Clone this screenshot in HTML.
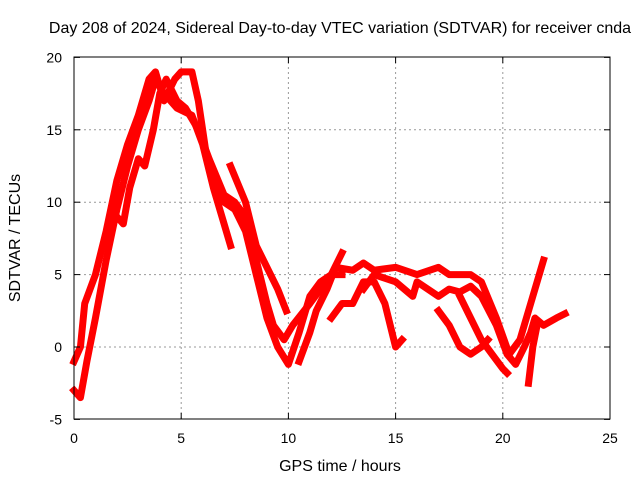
<!DOCTYPE html>
<html><head><meta charset="utf-8"><style>
body{margin:0;background:#fff}
svg{display:block;font-family:"Liberation Sans",sans-serif}
</style></head><body>
<svg width="640" height="480">
<g id="grid"></g>
<g id="series"></g>
<rect x="74" y="57" width="536" height="362" fill="none" stroke="#000" stroke-width="1"/>
<g id="ticks"></g>
<text x="340" y="33" text-anchor="middle" font-size="16">Day 208 of 2024, Sidereal Day-to-day VTEC variation (SDTVAR) for receiver cnda</text>
<text x="340" y="471" text-anchor="middle" font-size="16">GPS time / hours</text>
<text transform="translate(20,238) rotate(-90)" text-anchor="middle" font-size="16">SDTVAR / TECUs</text>
</svg>
<script>
const xTicks=[0,5,10,15,20,25];
const yTicks=[-5,0,5,10,15,20];
const track1=[[0,-3],[0.3,-3.5],[0.6,-1],[1,2],[1.5,6],[2,9.5],[2.5,12.5],[3,15],[3.5,17],[3.8,18.5],[4.2,17.5],[4.8,16.5],[5.5,16],[6,14],[6.5,11],[7,8.5],[7.3,7]];
const track2=[[0,-1],[0.3,0],[0.5,3],[1,5],[1.5,8],[2,11.5],[2.5,14],[3,16],[3.5,18.5],[3.8,19],[4.2,17],[4.7,18.5],[5,19],[5.5,19],[5.8,17],[6.2,13],[7,10],[7.5,9.5],[8,8],[8.5,5],[9,2],[9.5,0],[10,-1.2],[10.5,1],[11,3.5],[11.5,4.5],[12,5],[12.5,6.5]];
const track3=[[2,9],[2.3,8.5],[2.6,11],[3,13],[3.3,12.5],[3.7,15],[4,17.5],[4.3,18.5],[4.8,17],[5.2,16.5],[5.8,15],[6.3,13],[7,10.5],[7.5,10],[8,9],[8.5,6],[9,3],[9.3,1.5],[9.8,0.5],[10.2,1.5],[11,3],[12,5],[12.5,5]];
const track4=[[7.3,12.5],[8,10],[8.5,7],[9.5,4],[9.9,2.5]];
const track5=[[10.5,-1],[11,1],[11.3,2.5],[11.8,4],[12.2,5.5],[13,5.3],[13.5,5.8],[14,5.3],[15,5.5],[16,5],[17,5.5],[17.5,5],[18.5,5],[19,4.5],[19.7,2],[20.3,-0.5],[20.8,0.5],[21.3,3],[21.9,6]];
const track6=[[12,2],[12.5,3],[13,3],[13.5,4.5],[14,4.5],[14.5,3],[15,0],[15.3,0.5]];
const track7=[[13.5,4],[14,5],[15,4.5],[15.8,3.5],[16,4.5],[17,3.5],[17.5,4],[18,3.8],[18.5,4.2],[19,3.5],[19.7,1.5],[20.2,-0.5],[20.6,-1.2],[21,0],[21.3,1],[21.5,2],[21.9,1.5],[22.5,2],[22.9,2.3]];
const track8=[[17,2.5],[17.5,1.5],[18,0],[18.5,-0.5],[19,0],[19.3,0.5]];
const track9=[[18,3.5],[18.5,2],[19,0.5],[19.5,-0.5],[20,-1.5],[20.2,-1.8]];
const track10=[[21.2,-2.5],[21.4,0],[21.6,1.5]];
const tracks=[track1,track2,track3,track4,track5,track6,track7,track8,track9,track10];

const X=t=>74+(t-0)*(536/25);
const Y=v=>347-v*14.48;
const NS='http://www.w3.org/2000/svg';
const grid=document.getElementById('grid'),ticks=document.getElementById('ticks'),ser=document.getElementById('series');
function mk(tag,attrs,parent){const e=document.createElementNS(NS,tag);for(const k in attrs)e.setAttribute(k,attrs[k]);parent.appendChild(e);return e;}
xTicks.forEach(t=>{
  const x=X(t);
  if(t>0&&t<25){const g=mk('line',{x1:x,x2:x,y1:57,y2:419,stroke:'#999','stroke-dasharray':'2,3'},grid);
  
  }
  mk('line',{x1:x,x2:x,y1:419,y2:413,stroke:'#000'},ticks);
  mk('line',{x1:x,x2:x,y1:57,y2:63,stroke:'#000'},ticks);
  const l=mk('text',{x:x,y:443,'text-anchor':'middle','font-size':14},ticks);l.textContent=t;
  
  
});
yTicks.forEach(v=>{
  const y=Y(v);
  if(v>-5&&v<20){const g=mk('line',{x1:74,x2:610,y1:y,y2:y,stroke:'#999','stroke-dasharray':'2,3'},grid);
  
  }
  mk('line',{x1:74,x2:80,y1:y,y2:y,stroke:'#000'},ticks);
  mk('line',{x1:604,x2:610,y1:y,y2:y,stroke:'#000'},ticks);
  const l=mk('text',{x:62,y:y+5,'text-anchor':'end','font-size':14},ticks);l.textContent=v;
  
  
});
tracks.forEach(tr=>{
  const p=mk('polyline',{points:tr.map(d=>X(d[0])+','+Y(d[1])).join(' '),fill:'none',stroke:'#ff0000','stroke-width':7,'stroke-linejoin':'round','stroke-linecap':'square'},ser);
  
  
});
</script>
</body></html>
